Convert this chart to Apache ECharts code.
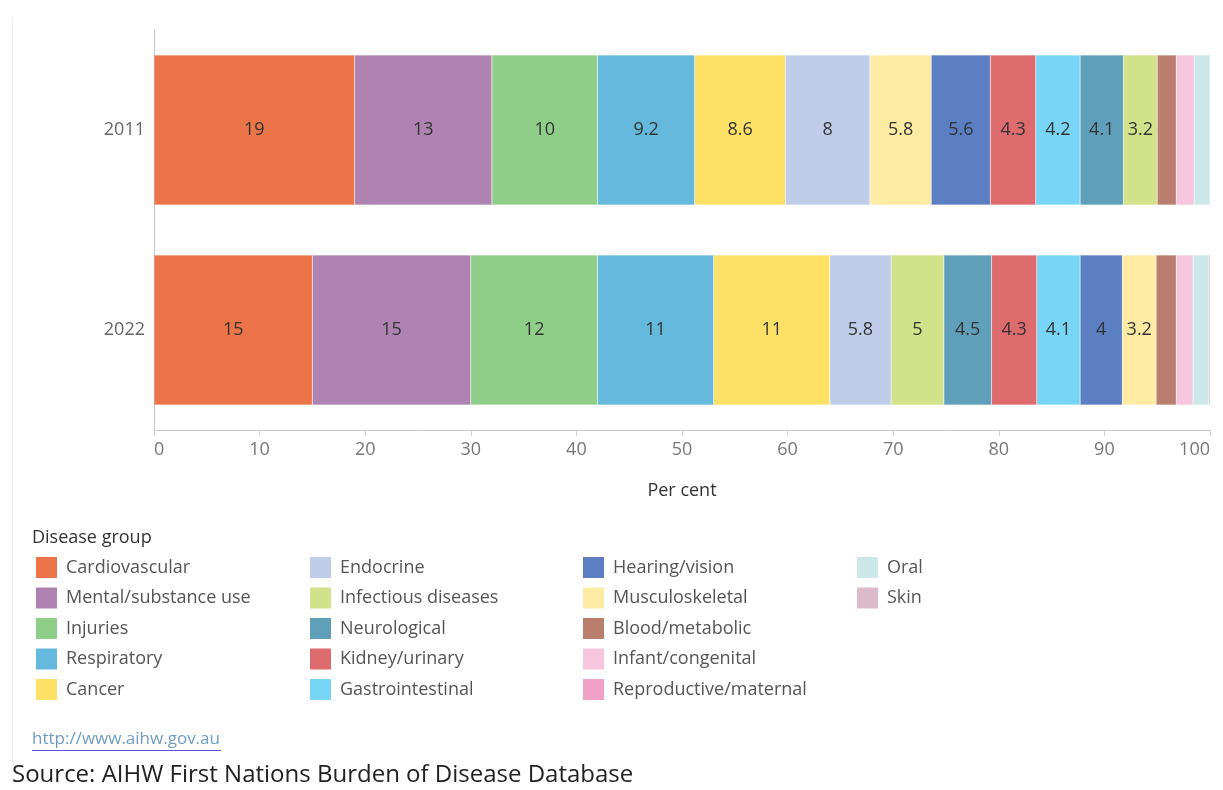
<!DOCTYPE html>
<html>
<head>
<meta charset="utf-8">
<script src="https://cdn.jsdelivr.net/npm/echarts@6/dist/echarts.min.js"></script>
<style>
  html, body { margin: 0; padding: 0; background: #fff; }
  #chart { width: 1223px; height: 790px; }
</style>
</head>
<body>
<div id="chart"></div>
<script>
// Share of total burden (per cent) by disease group, First Nations people
const years = ['2011', '2022'];
const diseases = [
  'Cardiovascular', 'Mental/substance use', 'Injuries', 'Respiratory', 'Cancer',
  'Endocrine', 'Infectious diseases', 'Neurological', 'Kidney/urinary', 'Gastrointestinal',
  'Hearing/vision', 'Musculoskeletal', 'Blood/metabolic', 'Infant/congenital', 'Reproductive/maternal',
  'Oral', 'Skin'
];
const colors = [
  '#EB7549', '#AE83B2', '#8FCE88', '#64B9DC', '#FCE166',
  '#BFCDE8', '#D1E28A', '#5F9FB9', '#DE6B6E', '#79D5F5',
  '#5C7EC3', '#FDEBA4', '#BA7E6E', '#F6C6DC', '#F2A1C6',
  '#CCE7E8', '#DBBACA'
];
const values2011 = [19, 13, 10, 9.2, 8.6, 8, 3.2, 4.1, 4.3, 4.2, 5.6, 5.8, 1.8, 1.7, 0, 1.5, 0];
const values2022 = [15, 15, 12, 11, 11, 5.8, 5, 4.5, 4.3, 4.1, 4, 3.2, 1.9, 1.6, 0, 1.5, 0.2];
const xTicks = { min: 0, max: 100, interval: 10 };

const FONT = 'Open Sans';

// Each year's bar is stacked largest-first, so build one series per rank
function ranked(vals) {
  return vals.map((v, i) => ({ v, i }))
    .filter(d => d.v > 0)
    .sort((a, b) => b.v - a.v);
}
const order = [ranked(values2011), ranked(values2022)];
const maxRank = Math.max(order[0].length, order[1].length);

const series = [];
for (let r = 0; r < maxRank; r++) {
  series.push({
    type: 'bar',
    stack: 'total',
    barCategoryGap: '25%',
    silent: true,
    data: order.map(list => {
      const d = list[r];
      if (!d) return { value: 0, itemStyle: { color: 'transparent' } };
      return {
        value: d.v,
        name: diseases[d.i],
        itemStyle: { color: colors[d.i], borderColor: 'rgba(255,255,255,0.35)', borderWidth: 0.5 }
      };
    }),
    label: {
      show: true,
      position: 'inside',
      fontFamily: FONT,
      fontSize: 18,
      color: '#333',
      formatter: p => (p.value >= 3 ? String(p.value) : '')
    }
  });
}
// Legend entries (empty series sharing the same stack)
diseases.forEach((name, i) => {
  series.push({ type: 'bar', name, data: [], itemStyle: { color: colors[i] }, stack: 'total' });
});

const legendCols = [diseases.slice(0, 5), diseases.slice(5, 10), diseases.slice(10, 15), diseases.slice(15)];
const legendLeft = [36, 310, 583, 857];
const legends = legendCols.map((data, c) => ({
  data,
  orient: 'vertical',
  left: legendLeft[c],
  top: 557,
  padding: 0,
  icon: 'rect',
  itemWidth: 21,
  itemHeight: 21,
  itemGap: 9.5,
  selectedMode: false,
  textStyle: { fontFamily: FONT, fontSize: 18, color: '#555', padding: [0, 0, 0, 4] }
}));

const chart = echarts.init(document.getElementById('chart'), null, { renderer: 'canvas' });
chart.setOption({
  animation: false,
  backgroundColor: '#fff',
  grid: { left: 154, right: 13, top: 30, bottom: 360 },
  xAxis: {
    type: 'value',
    min: xTicks.min,
    max: xTicks.max,
    interval: xTicks.interval,
    name: 'Per cent',
    nameLocation: 'middle',
    nameGap: 52,
    nameTextStyle: { fontFamily: FONT, fontSize: 18, color: '#333' },
    axisLine: { show: true, lineStyle: { color: '#c8c8c8' } },
    axisTick: { show: true, length: 6, lineStyle: { color: '#d0d0d0' } },
    splitLine: { show: false },
    axisLabel: {
      fontFamily: FONT, fontSize: 18, color: '#777', margin: 11,
      alignMinLabel: 'left', alignMaxLabel: 'right'
    }
  },
  yAxis: {
    type: 'category',
    data: years,
    inverse: true,
    axisLine: { show: true, lineStyle: { color: '#c8c8c8' } },
    axisTick: { show: false },
    axisLabel: { fontFamily: FONT, fontSize: 18, color: '#666', margin: 9 }
  },
  legend: legends,
  series,
  graphic: [
    { type: 'line', shape: { x1: 12.5, y1: 18, x2: 12.5, y2: 762 }, style: { stroke: '#eeeeee', lineWidth: 1 } },
    { type: 'text', left: 32, top: 529, style: { text: 'Disease group', font: '18px "Open Sans"', fill: '#333' } },
    { type: 'text', left: 32, top: 731, style: { text: 'http://www.aihw.gov.au', font: '17px "Open Sans"', fill: '#6f9cc4' } },
    { type: 'line', shape: { x1: 32, y1: 750.5, x2: 221, y2: 750.5 }, style: { stroke: '#5d4fe0', lineWidth: 1 } },
    { type: 'text', left: 12, top: 763, style: { text: 'Source: AIHW First Nations Burden of Disease Database', font: '24px "Open Sans"', fill: '#222' } }
  ]
});
</script>
</body>
</html>
